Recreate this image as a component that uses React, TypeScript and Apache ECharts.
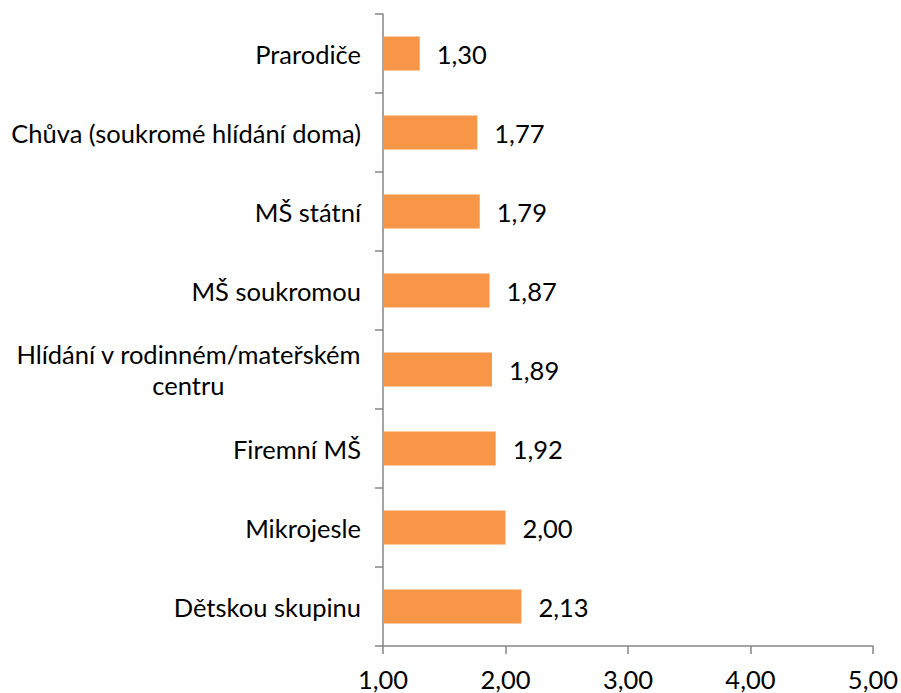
import React, { useEffect, useRef } from "react";
import * as echarts from "echarts";

const categories = [
  "Prarodiče",
  "Chůva (soukromé hlídání doma)",
  "MŠ státní",
  "MŠ soukromou",
  "Hlídání v rodinném/mateřském\ncentru",
  "Firemní MŠ",
  "Mikrojesle",
  "Dětskou skupinu",
];
const values = [1.3, 1.77, 1.79, 1.87, 1.89, 1.92, 2.0, 2.13];
const xMin = 1;
const xMax = 5;
const xInterval = 1;

const FONT = "Lato, 'Open Sans', sans-serif";
const FS = 25.5;
const fmt = (v: number) => v.toFixed(2).replace(".", ",");

export default function App() {
  const ref = useRef<HTMLDivElement>(null);
  useEffect(() => {
    if (!ref.current) return;
    const chart = echarts.init(ref.current, undefined, { renderer: "svg" });
    chart.setOption({
      animation: false,
      backgroundColor: "#ffffff",
      grid: { left: 383, right: 26, top: 14, bottom: 47, containLabel: false },
      xAxis: {
        type: "value",
        min: xMin,
        max: xMax,
        interval: xInterval,
        splitLine: { show: false },
        axisLine: { show: true, lineStyle: { color: "#868686", width: 1.5 } },
        axisTick: { show: true, length: 8, lineStyle: { color: "#868686", width: 1.5 } },
        axisLabel: {
          color: "#000",
          fontFamily: FONT,
          fontSize: FS,
          margin: 20,
          formatter: (v: number) => fmt(v),
        },
      },
      yAxis: {
        type: "category",
        inverse: true,
        data: categories,
        axisLine: { show: true, lineStyle: { color: "#868686", width: 1.5 } },
        axisTick: { show: true, length: 8, lineStyle: { color: "#868686", width: 1.5 } },
        axisLabel: {
          color: "#000",
          fontFamily: FONT,
          fontSize: FS,
          margin: 22,
          formatter: (v: string) =>
            v
              .split("\n")
              .map((l) => "{a|" + l + "}")
              .join("\n"),
          rich: {
            a: {
              align: "center",
              color: "#000",
              fontFamily: FONT,
              fontSize: FS,
              lineHeight: 31,
            },
          },
        },
      },
      series: [
        {
          type: "bar",
          data: values,
          barWidth: 34,
          itemStyle: { color: "#F79646" },
          label: {
            show: true,
            position: "right",
            distance: 17,
            color: "#000",
            fontFamily: FONT,
            fontSize: FS,
            formatter: (p: any) => fmt(p.value),
          },
        },
      ],
    });
    return () => chart.dispose();
  }, []);
  return <div ref={ref} style={{ width: 901, height: 693, position: "absolute", left: 0, top: 0 }} />;
}
